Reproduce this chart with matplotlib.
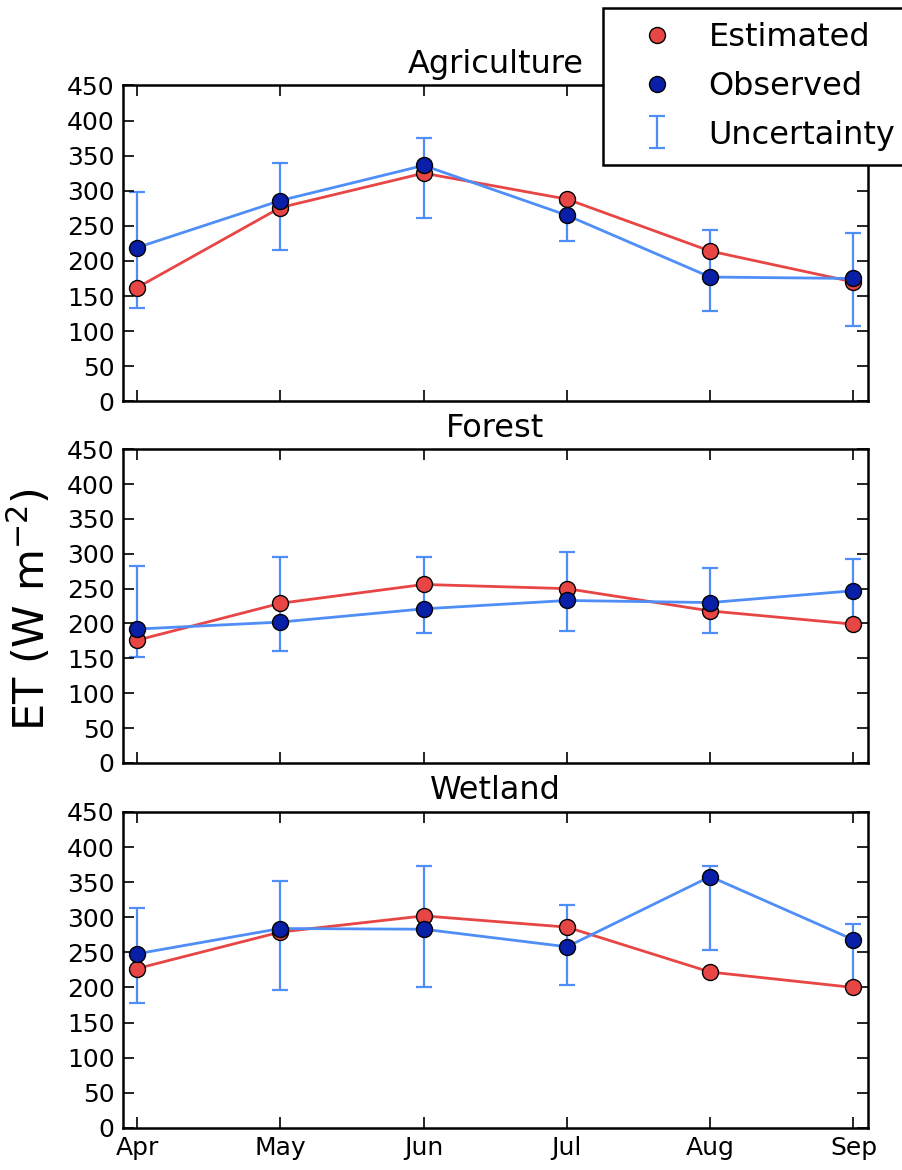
import matplotlib
matplotlib.use("Agg")
import matplotlib.pyplot as plt
from matplotlib.lines import Line2D
import numpy as np

months = ["Apr", "May", "Jun", "Jul", "Aug", "Sep"]
panels = ["Agriculture", "Forest", "Wetland"]

est_agri = [162, 276, 325, 288, 214, 170]
obs_agri = [219, 286, 336, 265, 177, 175]
unc_lo_agri = [133, 216, 261, 228, 129, 107]
unc_hi_agri = [298, 340, 375, 282, 244, 240]

est_forest = [176, 229, 256, 250, 218, 199]
obs_forest = [192, 202, 221, 233, 230, 247]
unc_lo_forest = [152, 160, 187, 189, 187, 201]
unc_hi_forest = [283, 295, 295, 303, 280, 292]

est_wet = [227, 279, 302, 286, 222, 200]
obs_wet = [248, 284, 283, 258, 358, 268]
unc_lo_wet = [178, 197, 200, 203, 254, 205]
unc_hi_wet = [313, 352, 373, 318, 373, 291]

est_all = [est_agri, est_forest, est_wet]
obs_all = [obs_agri, obs_forest, obs_wet]
lo_all = [unc_lo_agri, unc_lo_forest, unc_lo_wet]
hi_all = [unc_hi_agri, unc_hi_forest, unc_hi_wet]

RED = "#E84545"
DBLUE = "#0A1FA8"
LBLUE = "#4F8EF7"

fig = plt.figure(figsize=(9.03, 11.7), dpi=100)
rects = [
    (0.136, 0.657, 0.825, 0.270),
    (0.136, 0.348, 0.825, 0.268),
    (0.136, 0.036, 0.825, 0.270),
]
x = np.arange(len(months))
eb_handle = None
for i, r in enumerate(rects):
    ax = fig.add_axes(r)
    obs = np.array(obs_all[i], dtype=float)
    lo = np.array(lo_all[i], dtype=float)
    hi = np.array(hi_all[i], dtype=float)
    eb = ax.errorbar(x, obs, yerr=[obs - lo, hi - obs], fmt="none", ecolor=LBLUE,
                     elinewidth=1.6, capsize=6, capthick=1.6, zorder=1)
    if eb_handle is None:
        eb_handle = eb
    ax.plot(x, est_all[i], "-", color=RED, lw=2, zorder=2)
    ax.plot(x, est_all[i], "o", color=RED, mec="black", mew=1, ms=11.5, zorder=3)
    ax.plot(x, obs, "-", color=LBLUE, lw=2, zorder=4)
    ax.plot(x, obs, "o", color=DBLUE, mec="black", mew=1, ms=11.5, zorder=5)
    ax.set_xlim(-0.1, 5.1)
    ax.set_ylim(0, 450)
    ax.set_yticks(np.arange(0, 451, 50))
    ax.set_xticks(x)
    if i == 2:
        ax.set_xticklabels(months)
    else:
        ax.set_xticklabels([])
    ax.tick_params(direction="in", top=True, right=True, length=8, width=1.2,
                   labelsize=18, pad=6)
    for s in ax.spines.values():
        s.set_linewidth(1.8)
    ax.set_title(panels[i], fontsize=23, pad=9)

fig.text(0.033, 0.479, "ET (W m$^{-2}$)", rotation=90, fontsize=31,
         ha="center", va="center")

handles = [
    Line2D([], [], ls="none", marker="o", color=RED, mec="black", mew=1, ms=11.5),
    Line2D([], [], ls="none", marker="o", color=DBLUE, mec="black", mew=1, ms=11.5),
    eb_handle,
]
leg = fig.legend(handles, ["Estimated", "Observed", "Uncertainty"],
                 loc="upper left", bbox_to_anchor=(603 / 903, 1 - 8 / 1170),
                 fontsize=23, numpoints=1, handlelength=2.45, handletextpad=0.4,
                 labelspacing=0.55, borderpad=0.45, borderaxespad=0,
                 fancybox=False, framealpha=1, edgecolor="black")
leg.get_frame().set_linewidth(1.8)

fig.savefig("out.png", dpi=100)
